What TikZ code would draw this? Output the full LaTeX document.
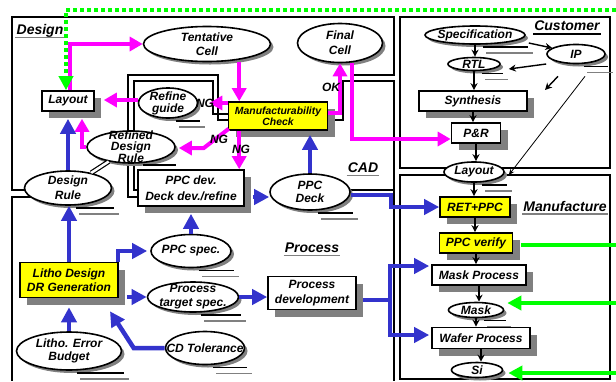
\documentclass[tikz,border=0pt]{standalone}
\usepackage{fontspec}
\setmainfont{Liberation Sans}
\usetikzlibrary{arrows.meta,shapes.geometric,shadows,calc}
\definecolor{dblue}{RGB}{51,51,204}
\definecolor{mgt}{RGB}{255,0,255}
\definecolor{grn}{RGB}{0,255,0}
\definecolor{ylw}{RGB}{255,255,0}
\pgfdeclarelayer{bg}
\pgfsetlayers{bg,main}
\tikzset{
  every node/.style={font=\bfseries\itshape\fontsize{12}{14}\selectfont},
  frame/.style={line width=1.6pt},
  box/.style={draw, line width=1.6pt, fill=white, inner sep=0pt, align=center,
    drop shadow={shadow xshift=7pt, shadow yshift=-7pt, fill=gray, opacity=1}},
  ybox/.style={box, fill=ylw},
  oval/.style 2 args={ellipse, draw, line width=1.6pt, fill=white, inner sep=0pt,
    minimum width=#1, minimum height=#2,
    drop shadow={shadow xshift=3pt, shadow yshift=-3pt, fill=gray, opacity=1}},
  txt/.style={inner sep=0pt, align=center},
  area/.style={inner sep=1pt, font=\bfseries\itshape\fontsize{14}{14}\selectfont},
  tag/.style={inner sep=0pt},
  mg/.style={draw=mgt, line width=4pt, -{Triangle[length=13pt,width=14pt]}},
  bl/.style={draw=dblue, line width=4.5pt, -{Triangle[length=15pt,width=15pt]}},
  gr/.style={draw=grn, line width=4pt},
  ga/.style={gr, -{Triangle[length=14pt,width=14pt]}},
  blk/.style={line width=1.4pt, -{Stealth[length=7pt,width=7pt]}},
}
\begin{document}
\begin{tikzpicture}[x=1pt, y=-1pt]
  \useasboundingbox (0,0) rectangle (616,381);
  % frames
  \begin{pgfonlayer}{bg}
    \draw[frame] (40,190) -- (12,190) -- (12,17) -- (394,17) -- (394,75) -- (352,75);
    \draw[frame] (40,197) -- (12,197) -- (12,381);
    \draw[frame] (350,190) -- (394,190) -- (394,81) -- (343,81) -- (343,120) -- (328,120);
    \draw[frame] (394,190) -- (394,381);
    \draw[frame] (138,197) -- (128,197) -- (128,75) -- (218,75) -- (218,120) -- (229,120);
    \draw[frame] (138,190) -- (134,190) -- (134,81) -- (213,81) -- (213,114) -- (229,114);
    \draw[frame] (400,17) rectangle (610,168);
    \draw[frame] (400,175) rectangle (610,379);
  \end{pgfonlayer}

  % area labels
  \node[area] (dsg) at (40,31) {Design};
  \node[area] (cst) at (567,26) {Customer};
  \node[area] (cad) at (363,168) {CAD};
  \node[area] (prc) at (312,248) {Process};
  \node[area] (mnf) at (565,206) {Manufacture};
  \foreach \n in {dsg,cad,prc,mnf}
    \draw[gray, line width=1.2pt] ($(\n.base west)+(0,3)$) -- ($(\n.base east)+(0,3)$);
  \draw[line width=1.5pt] ($(cst.base west)+(0,3)$) -- ($(cst.base east)+(0,3)$);

  % Design / CAD
  \node[oval={127pt}{35pt}, label={[txt]center:Tentative\\Cell}] (tent) at (207,44) {};
  \node[oval={85pt}{39pt}, label={[txt, font=\bfseries\itshape\fontsize{12}{15}\selectfont]center:Final\\Cell}] (final) at (340,43) {};
  \node[box, minimum width=52pt, minimum height=20pt] (lay) at (68,101) {Layout};
  \node[oval={59pt}{30pt}, label={[txt, font=\bfseries\itshape\fontsize{12}{12}\selectfont]center:Refine\\guide}] (rg) at (168,103) {};
  \node[oval={88pt}{32pt}, label={[txt, font=\bfseries\itshape\fontsize{12}{11}\selectfont]center:Refined\\Design\\Rule}] (rdr) at (131,147) {};
  \node[ybox, minimum width=99pt, minimum height=28pt, font=\bfseries\itshape\fontsize{10.4}{11}\selectfont] (mcheck) at (278,116) {Manufacturability\\Check};
  \node[oval={87pt}{34pt}, label={[txt, font=\bfseries\itshape\fontsize{12}{15}\selectfont]center:Design\\Rule}] (dr) at (68,188) {};
  \node[box, minimum width=106pt, minimum height=36pt, font=\bfseries\itshape\fontsize{12}{16}\selectfont] (ppcdev) at (191,188) {PPC dev.\\Deck dev./refine};
  \node[oval={80pt}{36pt}, label={[txt, font=\bfseries\itshape\fontsize{12}{13}\selectfont]center:PPC\\Deck}] (ppcdeck) at (310,192) {};

  % Customer
  \node[oval={100pt}{18pt}, label={[txt]center:Specification}] (spec) at (475,35) {};
  \node[oval={58pt}{19pt}, label={[txt]center:IP}] (ip) at (576,54) {};
  \node[oval={52pt}{13pt}, label={[txt]center:RTL}] (rtl) at (474,64) {};
  \node[box, minimum width=108pt, minimum height=20pt] (syn) at (473,101) {Synthesis};
  \node[box, minimum width=49pt, minimum height=20pt] (pr) at (476,133) {P\&R};
  \node[oval={60pt}{20pt}, label={[txt]center:Layout}] (lay2) at (474,172) {};

  % Process
  \node[oval={80pt}{33pt}, label={[txt]center:PPC spec.}] (ppcspec) at (191,251) {};
  \node[ybox, minimum width=98pt, minimum height=35pt] (litho) at (69,280) {Litho Design\\DR Generation};
  \node[oval={91pt}{30pt}, label={[txt]center:Process\\target spec.}] (pts) at (193,297) {};
  \node[box, minimum width=88pt, minimum height=33pt, font=\bfseries\itshape\fontsize{12}{15}\selectfont] (pdev) at (312,293) {Process\\development};
  \node[oval={105pt}{38pt}, label={[txt, font=\bfseries\itshape\fontsize{12}{13}\selectfont]center:Litho. Error\\Budget}] (leb) at (69,351) {};
  \node[oval={79pt}{33pt}, label={[txt]center:CD Tolerance}] (cdt) at (205,348) {};

  % Manufacture
  \node[ybox, minimum width=70pt, minimum height=20pt] (ret) at (475,207) {RET+PPC};
  \node[ybox, minimum width=73pt, minimum height=20pt] (pver) at (476,243) {PPC verify};
  \node[box, minimum width=94pt, minimum height=20pt] (mproc) at (479,275) {Mask Process};
  \node[oval={55pt}{15pt}, label={[txt]center:Mask}] (mask) at (476,310) {};
  \node[box, minimum width=98pt, minimum height=21pt] (wproc) at (481,338) {Wafer Process};
  \node[oval={51pt}{15pt}, label={[txt]center:Si}] (si) at (477,370) {};

  % shadow marks under ovals
  \foreach \n in {rg,dr,ppcdeck,spec,ip,rtl,lay2,ppcspec,pts,leb,cdt,mask} {
    \draw[line width=1.5pt] ($(\n.south)+(8,2)$) -- ($(\n.south -| \n.east)+(2,2)$);
    \draw[gray, line width=1.5pt] ($(\n.south)+(11,8)$) -- ($(\n.south -| \n.east)+(7,8)$);
  }
  \draw[line width=1.5pt] ($(rdr.south)+(12,1)$) -- ($(rdr.south -| rdr.east)+(0,1)$);
  \draw[double, double distance=2.5pt, line width=1.2pt] (dr) -- (rdr);

  % free ends
  \coordinate (ge1) at (616,10);
  \coordinate (ge2) at (616,245);
  \coordinate (ge3) at (616,303);
  \coordinate (ge4) at (616,373);
  \coordinate (ipgap) at (545,90);

  % magenta loop
  \draw[mg] ($(lay.north)+(2,0)$) |- (tent.west);
  \draw[mg] ($(mcheck.north west |- tent.south)+(11.5,0)$) -- ($(mcheck.north west)+(11.5,0)$);
  \draw[mg] (mcheck.west |- rg) -- ($(rg.east)+(11,0)$);
  \draw[mg] ($(rg.west)+(0,-3)$) -- ($(lay.east |- rg.west)+(9,-3)$);
  \draw[mg] ($(mcheck.south west)+(1,-2)$) -- ($(rdr.east)+(28,1)$) -- ($(rdr.east)+(3,1)$);
  \draw[mg] (rdr.west) -| ($(lay.south)+(14,7)$);
  \draw[mg] ($(mcheck.south west)+(11.5,0)$) -- ($(mcheck.south west |- ppcdev.north)+(11.5,0)$);
  \draw[mg] ($(mcheck.east)+(0,-3)$) -| (final.south);
  \draw[mg] ($(final.south)+(12,0)$) |- ($(pr.west)+(0,6)$);

  % blue flow
  \draw[bl] (dr.north) -- ($(lay.south)+(0,7)$);
  \draw[bl] (litho.north) -- (litho.north |- dr.south);
  \draw[bl] (leb.north) -- ($(litho.south)+(0,9)$);
  \draw[bl] (cdt.west) -- ($(cdt.west)+(-31,0)$) -- ($(litho.south)+(41,13)$);
  \draw[bl] ($(litho.north east)+(-1,0)$) |- ($(ppcspec.west)+(-3,0)$);
  \draw[bl] ($(litho.east |- pts.west)+(8,0)$) -- (pts.west);
  \draw[bl] (pts.east) -- (pts.east -| pdev.west);
  \draw[bl] (ppcspec.north) -- ($(ppcdev.south)+(0,7)$);
  \draw[bl] ($(ppcdev.east)+(8,9)$) -- ($(ppcdev.east -| ppcdeck.west)+(0,9)$);
  \draw[bl] (ppcdeck.north) -- ($(mcheck.south -| ppcdeck.north)+(0,4)$);
  \draw[bl] ($(ppcdeck.east)+(0,3)$) -- ($(ppcdeck.east)+(40,3)$) |- (ret.west);
  \draw[bl, -] ($(pdev.east)+(6,7)$) -- ($(pdev.east)+(33,7)$) coordinate (fork);
  \draw[bl] (fork) |- ($(mproc.west)+(-2,-9)$);
  \draw[bl] (fork) |- ($(wproc.west)+(-2,-3)$);

  % green loop
  \draw[gr, dash pattern=on 4pt off 3pt, -{Triangle[length=14pt,width=14pt]}] (ge1) -| ($(lay.north)+(-2,0)$);
  \draw[gr] ($(ge2 -| pver.east)+(8,0)$) -- (ge2);
  \draw[ga] (ge3) -- ($(ge3 -| mask.east)+(3,0)$);
  \draw[ga] (ge4) -- ($(ge4 -| si.east)+(5,0)$);

  % customer / manufacture chain
  \foreach \a/\b in {spec/rtl,rtl/syn,syn/pr,pr/lay2,lay2/ret,ret/pver,pver/mproc,mproc/mask,mask/wproc,wproc/si}
    \draw[blk] (\a.south) -- (\a.south |- \b.north);
  \draw[blk] ($(spec.east)+(3,8)$) -- ($(ip.west)+(6,-6)$);
  \draw[blk] ($(ip.west)+(0,10)$) -- ($(rtl.east)+(8,5)$);
  \draw[blk] ($(ip.south)+(-18,12)$) -- (ipgap);
  \draw[line width=0.8pt, -{Stealth[length=6pt,width=5pt]}] ($(ip.south)+(9,12)$) -- ($(lay2.east)+(4,3)$);

  % NG / OK tags
  \node[tag] (ng1) at (205,103) {NG};
  \node[tag] (ng2) at (219,139) {NG};
  \node[tag] (ng3) at (241,149) {NG};
  \node[tag] (okt) at (331,87) {OK};
\end{tikzpicture}
\end{document}
